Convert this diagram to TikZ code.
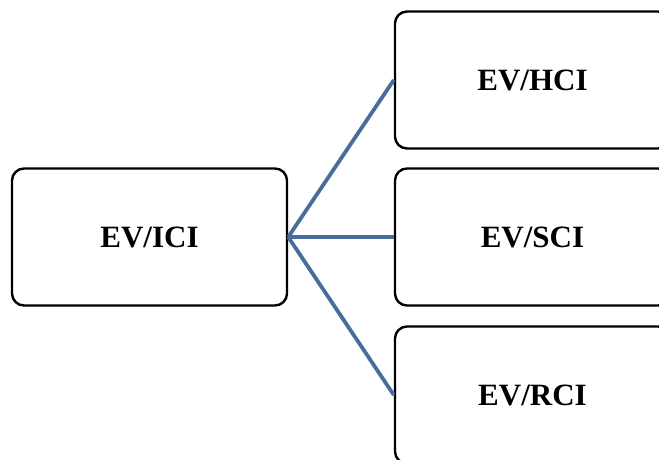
\documentclass[tikz,border=0pt]{standalone}
\usepackage{fontspec}
\setmainfont{Liberation Serif}
\definecolor{linkblue}{RGB}{72,108,156}
\begin{document}
\begin{tikzpicture}[x=1pt,y=-1pt,
  box/.style={draw=black, line width=2.4pt, rounded corners=12pt, fill=white,
    minimum width=275pt, minimum height=137pt, inner sep=0pt,
    font=\fontsize{31}{36}\selectfont\bfseries},
  conn/.style={draw=linkblue, line width=3.8pt}]
  \useasboundingbox (0,0) rectangle (659,459);
  \clip (0,0) rectangle (659,459);
  % left root box
  \node[box] (ici) at (149.5,237) {EV/ICI};
  % right column of boxes
  \node[box] (hci) at (532.5,80) {EV/HCI};
  \node[box] (sci) at (532.5,237) {EV/SCI};
  \node[box] (rci) at (532.5,395) {EV/RCI};
  % connectors fanning out from the root
  \draw[conn] (ici.east) -- (hci.west);
  \draw[conn] (ici.east) -- (sci.west);
  \draw[conn] (ici.east) -- (rci.west);
\end{tikzpicture}
\end{document}
